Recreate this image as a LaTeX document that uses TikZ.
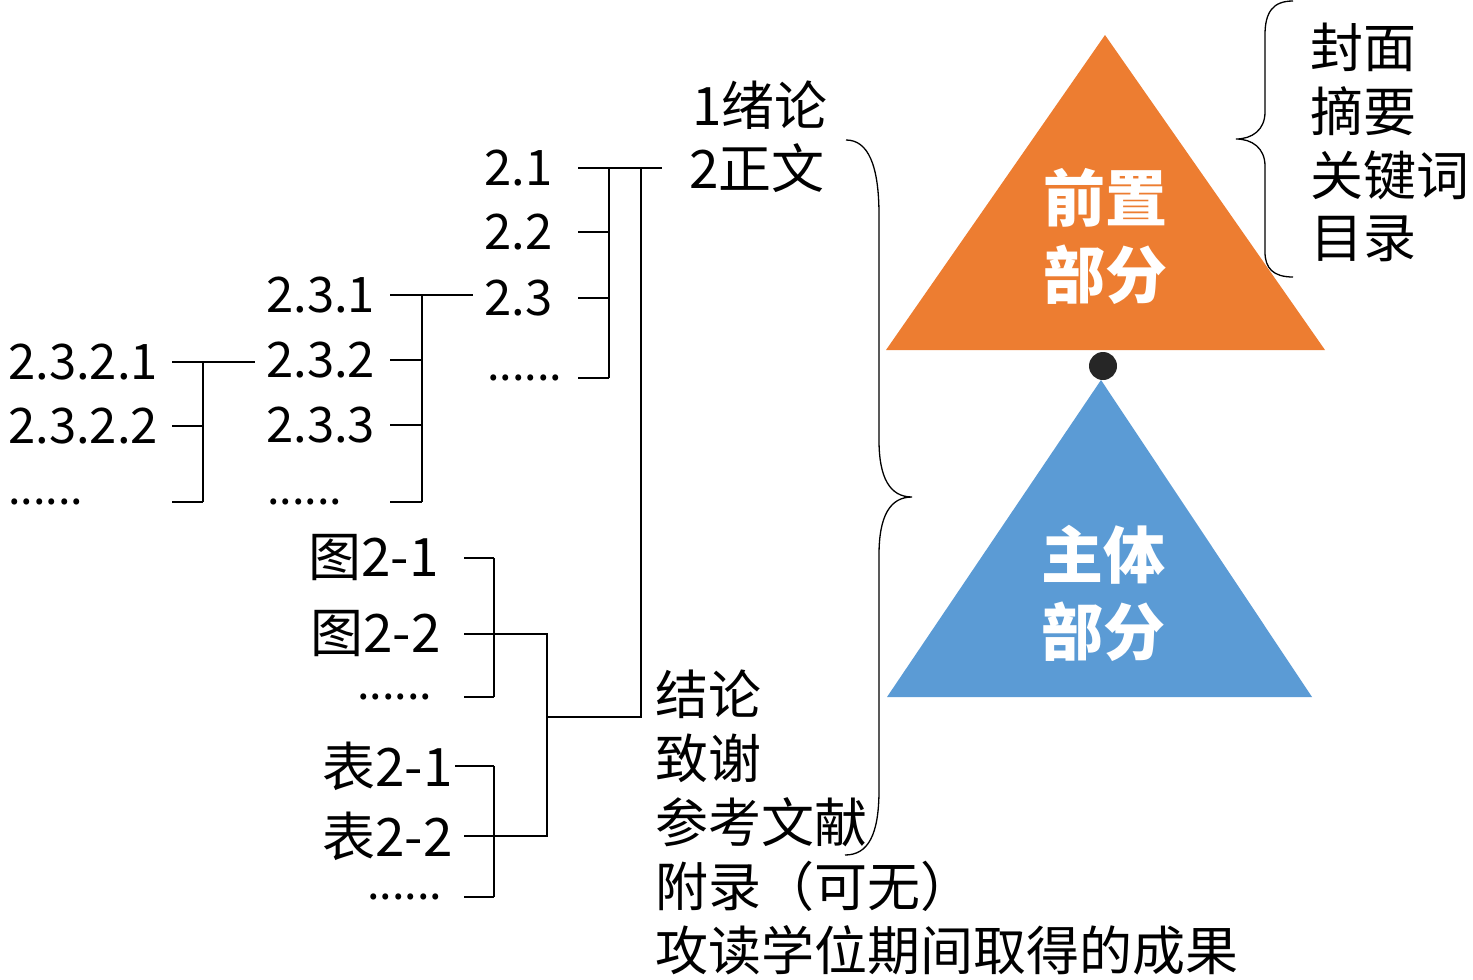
\documentclass[tikz,border=0pt]{standalone}
\usepackage{fontspec}
\usepackage{xcolor}
\usepackage{tikz}
\newfontfamily\cjk{Noto Sans CJK SC}
\definecolor{frontorange}{HTML}{ED7D31}
\definecolor{mainblue}{HTML}{5B9BD5}
\definecolor{dotgray}{HTML}{262626}

\begin{document}
\begin{tikzpicture}[x=1pt, y=-1pt,
    item/.style={anchor=west, inner sep=0pt, font=\cjk\fontsize{53}{64}\selectfont},
    num/.style={item, font=\cjk\fontsize{49}{64}\selectfont},
    more/.style={item, font=\cjk\fontsize{45}{64}\selectfont},
    title/.style={align=center, inner sep=0pt, text=white, font=\cjk\bfseries\fontsize{62}{77}\selectfont},
    brk/.style={line width=2pt},
    brace/.style={line width=1.3pt}]
    \useasboundingbox (0,0) rectangle (1473,980);
    % headings of each level
    \node[num] (n2321) at (8,362) {2.3.2.1};
    \node[num] (n2322) at (8,426) {2.3.2.2};
    \node[more] (d4) at (8,502) {......};
    \node[num] (n231) at (266,295) {2.3.1};
    \node[num] (n232) at (266,360) {2.3.2};
    \node[num] (n233) at (266,425) {2.3.3};
    \node[more] (d3) at (267,502) {......};
    \node[num] (n21) at (484,168) {2.1};
    \node[num] (n22) at (484,232) {2.2};
    \node[num] (n23) at (484,298) {2.3};
    \node[more] (d2) at (487,378) {......};
    \node[item] (ch1) at (692,105) {1绪论};
    \node[item] (ch2) at (689,168) {2正文};
    % figures and tables
    \node[item] (fig1) at (308,558) {图2-1};
    \node[item] (fig2) at (310,634) {图2-2};
    \node[more] (dfig) at (357,697) {......};
    \node[item] (tab1) at (322,766) {表2-1};
    \node[item] (tab2) at (322,836) {表2-2};
    \node[more] (dtab) at (367,897) {......};

    % brackets
    \foreach \c in {n2321,n2322,d4} \draw[brk] (172,0 |- \c) -- (203,0 |- \c);
    \draw[brk] (203,0 |- n2321) -- (203,0 |- d4);
    \draw[brk, shorten >=11pt] (203,0 |- n2321) -- (n232.west |- n2321);
    \foreach \c in {n231,n232,n233,d3} \draw[brk] (390,0 |- \c) -- (422,0 |- \c);
    \draw[brk] (422,0 |- n231) -- (422,0 |- d3);
    \draw[brk, shorten >=11pt] (422,0 |- n231) -- (n23.west |- n231);
    \foreach \c in {n21,n22,n23,d2} \draw[brk] (578,0 |- \c) -- (609,0 |- \c);
    \draw[brk] (609,0 |- n21) -- (609,0 |- d2);
    \draw[brk, shorten >=27pt] (609,0 |- n21) -- (ch2.west |- n21);
    \foreach \c/\s in {fig1/464,fig2/464,dfig/464} \draw[brk] (\s,0 |- \c) -- (494,0 |- \c);
    \draw[brk] (494,0 |- fig1) -- (494,0 |- dfig);
    \foreach \c/\s in {tab1/455,tab2/464,dtab/464} \draw[brk] (\s,0 |- \c) -- (494,0 |- \c);
    \draw[brk] (494,0 |- tab1) -- (494,0 |- dtab);
    \draw[brk] (494,0 |- fig2) -- (547,0 |- fig2) -- (547,0 |- tab2) -- (494,0 |- tab2);
    \coordinate (join) at (547,717);
    \draw[brk] (join) -- (641,717) -- (641,0 |- n21);

    % back matter
    \foreach \t [count=\i] in {结论,致谢,参考文献,附录（可无）,攻读学位期间取得的成果}
        \node[item] (bm\i) at (655,{694+64*(\i-1)}) {\t};
    % front matter
    \foreach \t [count=\i] in {封面,摘要,关键词,目录}
        \node[item] (fm\i) at (1310,{47+64*(\i-1)}) {\t};

    % braces
    \draw[brace] (846,140) .. controls (868,140) and (879,165) .. (879,215)
        -- (879,440) .. controls (879,478) and (890,497) .. (912,497)
        .. controls (890,497) and (879,516) .. (879,555)
        -- (879,790) .. controls (879,835) and (868,855) .. (845,855);
    \draw[brace] (1293,1) .. controls (1273,1) and (1265,12) .. (1265,35)
        -- (1265,112) .. controls (1265,130) and (1252,139) .. (1236,139)
        .. controls (1252,139) and (1265,148) .. (1265,166)
        -- (1265,252) .. controls (1265,268) and (1273,277) .. (1293,277);

    % the two parts
    \fill[frontorange] (886,350) -- (1105,35) -- (1325,350) -- cycle;
    \fill[mainblue] (887,697) -- (1101,380) -- (1312,697) -- cycle;
    \fill[dotgray] (1103,366) circle (14);
    \node[title] (front) at (1105,236) {前置\\部分};
    \node[title] (body) at (1103,593) {主体\\部分};
\end{tikzpicture}
\end{document}
